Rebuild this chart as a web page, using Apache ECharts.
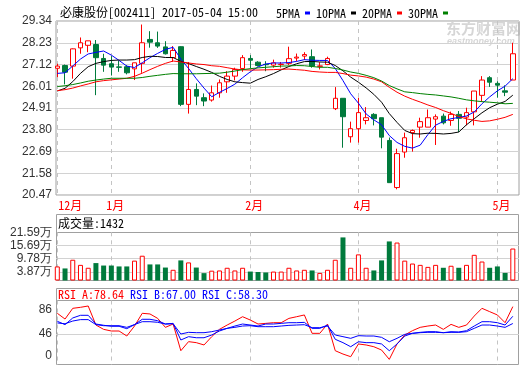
<!DOCTYPE html>
<html><head><meta charset="utf-8">
<script src="https://cdn.jsdelivr.net/npm/echarts@6/dist/echarts.min.js"></script>
<style>html,body{margin:0;padding:0;background:#fff}#c{width:520px;height:365px}</style>
</head><body><div id="c"></div>
<script>
// ---------- data ----------
const titleText = '必康股份[002411] 2017-05-04 15:00';
const maNames = ['5PMA', '10PMA', '20PMA', '30PMA'];
const monthIdx = [0, 7, 25, 39, 57];
const monthLabels = ['12月', '1月', '2月', '4月', '5月'];
const priceTicks = [20.47, 21.58, 22.69, 23.80, 24.91, 26.01, 27.12, 28.23, 29.34];
const volTicks = [0, 3.87, 9.78, 15.69, 21.59];
const rsiTicks = [0, 46, 86];
const volHeader = '成交量:1432';
const rsiHeader = ['RSI_A:78.64', 'RSI_B:67.00', 'RSI_C:58.30'];

// [open, close, low, high]
const ohlc = [
  [26.93,27.04,26.48,27.16],[27.07,26.73,26.11,27.12],[27.04,27.92,26.40,27.94],[27.97,28.23,27.67,28.50],
  [28.10,28.33,27.75,28.33],[28.14,27.47,25.56,28.37],[27.43,27.09,26.75,27.67],[27.16,26.99,26.56,27.55],
  [27.00,26.98,26.75,27.30],[27.01,26.70,26.62,27.09],[26.90,27.21,26.33,27.21],[27.18,28.23,26.70,29.16],
  [28.40,28.26,27.98,28.82],[28.23,28.06,27.97,28.80],[28.02,27.67,27.63,28.31],[27.47,27.84,27.26,28.06],
  [28.03,25.09,25.00,28.05],[25.09,25.85,24.62,27.25],[25.85,25.51,25.05,26.16],[25.43,25.26,25.00,25.65],
  [25.31,25.68,25.23,26.05],[25.68,26.19,25.43,26.36],[26.24,26.53,25.68,26.78],[26.53,26.87,26.31,26.96],
  [26.92,27.47,26.75,27.60],[27.43,27.34,26.92,27.60],[27.24,27.07,27.02,27.29],[27.13,27.11,26.78,27.29],
  [27.09,27.21,26.96,27.37],[27.12,27.14,26.96,27.25],[27.18,27.42,27.09,28.03],[27.45,27.50,27.29,27.68],
  [27.55,27.63,27.35,27.75],[27.52,27.04,26.96,27.89],[27.03,27.05,26.87,27.24],[27.12,27.43,27.09,27.52],
  [24.87,25.40,24.80,25.97],[25.40,24.46,22.88,25.40],[23.44,23.85,23.14,24.21],[23.85,24.67,23.14,25.43],
  [24.27,24.41,24.07,24.95],[24.58,24.36,24.02,24.64],[24.41,23.42,22.85,24.41],[23.25,21.10,21.10,23.40],
  [20.85,22.58,20.76,22.83],[22.66,23.39,22.37,23.65],[23.65,23.76,22.68,23.81],[23.93,24.21,23.39,24.41],
  [23.93,24.41,23.93,24.83],[24.34,24.46,23.02,24.58],[24.49,24.15,24.07,24.62],[24.27,24.58,24.00,24.72],
  [24.58,24.38,23.68,24.75],[24.44,24.67,24.02,24.92],[24.71,25.77,24.02,25.77],[25.55,26.33,25.23,26.53],
  [26.45,26.22,25.98,26.53],[26.16,26.07,25.43,26.27],[25.78,25.71,25.51,26.06],[26.33,27.67,26.33,28.23]
];
// volume in 万
const volume = [
  6.3,5.4,9.3,7.0,5.7,7.8,6.7,6.7,6.3,6.3,
  8.9,11.1,7.2,7.2,5.8,4.8,9.0,8.1,5.8,3.3,
  4.4,4.5,5.7,4.5,5.7,4.0,3.8,3.6,4.0,4.0,
  5.7,4.5,4.8,4.5,3.4,4.8,9.3,19.3,5.7,11.7,
  5.7,4.5,9.0,17.5,17.0,8.9,7.6,7.0,6.1,7.0,
  5.7,6.6,5.7,7.0,11.5,8.5,5.7,6.3,3.4,14.32
];
const ma5 = [
  26.67,26.70,27.05,27.40,27.66,27.74,27.81,27.60,27.33,27.04,
  26.97,27.21,27.47,27.69,27.89,28.00,27.40,26.92,26.40,25.92,
  25.48,25.70,25.90,26.12,26.45,26.75,27.00,27.15,27.20,27.20,
  27.22,27.28,27.37,27.34,27.33,27.33,26.92,26.30,25.63,25.15,
  24.60,24.30,24.05,23.50,23.15,22.95,22.86,23.01,23.55,24.03,
  24.22,24.36,24.42,24.50,24.70,25.12,25.47,25.78,26.02,26.40
];
const ma10 = [
  25.77,25.91,26.25,26.67,27.01,27.18,27.27,27.33,27.35,27.35,
  27.37,27.48,27.54,27.53,27.48,27.48,27.28,27.17,27.02,26.88,
  26.72,26.52,26.36,26.24,26.20,26.17,26.36,26.50,26.66,26.85,
  27.02,27.16,27.27,27.28,27.25,27.24,27.07,26.80,26.48,26.22,
  25.93,25.60,25.20,24.62,24.17,23.76,23.60,23.58,23.62,23.61,
  23.58,23.61,23.68,24.05,24.36,24.66,24.92,25.10,25.24,25.56
];
const ma20 = [
  25.79,25.84,25.92,26.03,26.13,26.24,26.30,26.34,26.38,26.42,
  26.52,26.68,26.86,27.03,27.18,27.30,27.25,27.20,27.15,27.12,
  27.06,27.03,26.96,26.89,26.85,26.84,26.84,26.85,26.86,26.88,
  26.89,26.86,26.83,26.77,26.74,26.72,26.72,26.66,26.58,26.54,
  26.48,26.38,26.24,25.96,25.71,25.51,25.35,25.21,25.06,24.93,
  24.77,24.63,24.47,24.35,24.28,24.22,24.25,24.33,24.43,24.58
];
const ma30 = [
  26.00,26.04,26.10,26.18,26.27,26.33,26.38,26.42,26.42,26.42,
  26.42,26.46,26.52,26.57,26.62,26.66,26.65,26.65,26.65,26.66,
  26.67,26.68,26.73,26.79,26.86,26.91,26.95,26.98,27.01,27.04,
  27.05,27.07,27.06,27.02,26.98,26.98,26.92,26.84,26.74,26.67,
  26.57,26.45,26.28,26.05,25.88,25.73,25.69,25.64,25.60,25.57,
  25.52,25.47,25.40,25.32,25.27,25.23,25.20,25.17,25.12,25.14
];
const rsiA = [
  70.6,63.7,76.6,77.8,79.4,56.5,51.3,49.3,49.3,43.3,
  55.3,70.6,69.8,64.5,53.7,57.7,25.6,36.5,35.3,32.5,
  42.5,51.3,56.5,61.3,66.5,62.5,57.7,58.5,59.3,59.3,
  64.5,66.5,68.6,46.5,46.5,57.7,25.6,21.6,18.4,33.7,
  32.5,30.4,26.4,15.2,33.7,44.5,49.7,53.7,55.3,56.5,
  51.3,57.3,53.7,56.5,67.3,76.6,72.6,68.6,59.3,78.64
];
const rsiB = [
  61.0,57.0,65.0,68.2,68.2,57.7,56.2,55.0,55.0,52.1,
  57.0,63.4,63.4,61.7,57.7,58.5,38.5,42.5,41.2,41.2,
  44.5,49.3,52.5,55.3,57.7,56.5,55.3,57.7,57.7,58.5,
  59.3,59.3,59.7,52.5,52.5,56.5,39.3,35.3,30.4,36.4,
  35.3,35.3,33.7,25.6,33.7,43.3,46.5,47.7,48.5,48.5,
  47.3,48.5,48.1,49.7,55.3,60.5,60.5,59.3,56.5,67.00
];
const rsiC = [
  59.0,58.0,61.3,63.0,63.0,57.0,55.7,55.7,55.7,53.7,
  57.0,60.5,60.5,59.8,57.7,58.0,45.7,47.7,47.3,47.3,
  48.5,50.5,52.5,53.7,55.3,55.7,54.5,54.5,54.5,55.3,
  56.1,56.5,56.9,53.3,53.3,55.3,44.5,42.5,40.5,43.7,
  43.3,43.3,41.7,36.4,40.5,45.3,46.5,47.3,47.7,47.7,
  47.3,47.7,47.7,48.5,52.5,56.5,56.5,55.3,53.7,58.30
];

// ---------- styles ----------
const RED = '#ff0000', GREEN = '#007a3c', BLUE = '#0000ff';
const NUM_FONT = "'Liberation Sans', Arial, sans-serif";
const CJK_FONT = "'Noto Sans Mono CJK SC', 'Noto Sans CJK SC', sans-serif";
const GRID_LINE = '#d2d2d2', FRAME = '#a0a0a0';
const X_MIN = -0.17, X_MAX = 59.8;

function xAxisFor(gi, showLabel) {
  return {
    type: 'value', gridIndex: gi, min: X_MIN, max: X_MAX,
    axisLine: { show: false },
    axisTick: { show: false, customValues: monthIdx },
    splitLine: { show: true, lineStyle: { color: '#c4c4c4', type: [4, 4], width: 1 } },
    axisLabel: {
      show: showLabel, customValues: monthIdx, margin: 4,
      formatter: function (v) {
        const k = monthIdx.indexOf(Math.round(v));
        const t = monthLabels[k] || '';
        return k === 0 ? '{f|' + t + '}' : '{m|' + t + '}';
      },
      rich: {
        f: { color: RED, fontSize: 12, fontFamily: CJK_FONT, padding: [0, 0, 0, 26] },
        m: { color: RED, fontSize: 12, fontFamily: CJK_FONT, padding: [0, 0, 0, 8] }
      }
    }
  };
}

const upOf = ohlc.map(d => d[1] >= d[0]);

const option = {
  animation: false,
  backgroundColor: '#ffffff',
  title: {
    text: titleText, left: 55, top: 1,
    textStyle: { fontSize: 12, fontWeight: 'normal', color: '#000', fontFamily: CJK_FONT }
  },
  legend: {
    data: maNames, left: 271, top: 2, icon: 'rect', itemWidth: 5, itemHeight: 3,
    align: 'right', itemGap: 6, selectedMode: false,
    textStyle: { fontSize: 12, color: '#000', fontFamily: CJK_FONT }
  },
  grid: [
    { left: 56, right: 1, top: 21, height: 174, show: true, borderColor: FRAME, borderWidth: 1, backgroundColor: 'transparent', outerBoundsMode: 'none' },
    { left: 56, right: 1, top: 232.3, height: 48.2, show: false, outerBoundsMode: 'none' },
    { left: 56, right: 1, top: 300.5, height: 71.5, show: false, outerBoundsMode: 'none' }
  ],
  xAxis: [xAxisFor(0, true), xAxisFor(1, false), xAxisFor(2, false)],
  yAxis: [
    {
      type: 'value', gridIndex: 0, min: priceTicks[0], max: priceTicks[priceTicks.length - 1],
      axisLine: { show: false }, axisTick: { show: false, customValues: priceTicks },
      splitLine: { show: true, lineStyle: { color: GRID_LINE } },
      axisLabel: { customValues: priceTicks, margin: 4, color: '#333', fontSize: 12, fontFamily: NUM_FONT,
        formatter: v => v.toFixed(2) }
    },
    {
      type: 'value', gridIndex: 1, min: 0, max: volTicks[volTicks.length - 1],
      axisLine: { show: false }, axisTick: { show: false, customValues: volTicks },
      splitLine: { show: true, lineStyle: { color: ['transparent', GRID_LINE, GRID_LINE, GRID_LINE, FRAME] } },
      axisLabel: { customValues: volTicks, margin: 4, color: '#333', fontSize: 12, fontFamily: NUM_FONT,
        formatter: v => v === 0 ? '0' : v.toFixed(2) + '万' }
    },
    {
      type: 'value', gridIndex: 2, min: 0, max: rsiTicks[rsiTicks.length - 1],
      axisLine: { show: false }, axisTick: { show: false, customValues: rsiTicks },
      splitLine: { show: true, lineStyle: { color: ['transparent', GRID_LINE, FRAME] } },
      axisLabel: { customValues: rsiTicks, margin: 4,
        formatter: v => v === 0 ? '{lo|0}' : (v === 86 ? '{hi|86}' : '{n|' + v + '}'),
        rich: {
          lo: { color: '#333', fontSize: 12, fontFamily: NUM_FONT, padding: [0, 0, 32, 0] },
          hi: { color: '#333', fontSize: 12, fontFamily: NUM_FONT, padding: [18, 0, 0, 0] },
          n: { color: '#333', fontSize: 12, fontFamily: NUM_FONT }
        }
      }
    }
  ],
  graphic: [
    { type: 'rect', shape: { x: 56.5, y: 214.5, width: 462, height: 66 }, style: { fill: 'none', stroke: FRAME, lineWidth: 1 }, silent: true },
    { type: 'rect', shape: { x: 56.5, y: 288.5, width: 462, height: 76 }, style: { fill: 'none', stroke: FRAME, lineWidth: 1 }, silent: true },
    { type: 'text', x: 58, y: 223, style: { text: volHeader, fill: '#000', font: '12px ' + CJK_FONT, verticalAlign: 'middle' }, silent: true },
    { type: 'text', x: 58, y: 294, silent: true, style: {
        text: '{a|' + rsiHeader[0] + '} {b|' + rsiHeader[1] + '} {b|' + rsiHeader[2] + '}',
        font: '12px ' + CJK_FONT, verticalAlign: 'middle',
        rich: { a: { fill: RED, font: '12px ' + CJK_FONT }, b: { fill: BLUE, font: '12px ' + CJK_FONT } }
      } },
    { type: 'text', x: 446, y: 21, silent: true, z: -1, style: { text: '东方财富网', fill: '#d6d6d6', font: 'bold 15px ' + CJK_FONT } },
    { type: 'text', x: 447, y: 37, silent: true, z: -1, style: { text: 'eastmoney.com', fill: '#d6d6d6', font: 'italic bold 9px ' + NUM_FONT } }
  ],
  series: [
    {
      type: 'candlestick', name: 'K', xAxisIndex: 0, yAxisIndex: 0, barWidth: 5,
      encode: { x: 0, y: [1, 2, 3, 4] },
      data: ohlc.map((d, i) => [i, d[0], d[1], d[2], d[3]]),
      itemStyle: { color: '#ffffff', color0: GREEN, borderColor: RED, borderColor0: GREEN, borderWidth: 1 },
      emphasis: { disabled: true }
    },
    { type: 'line', name: maNames[0], xAxisIndex: 0, yAxisIndex: 0, showSymbol: false, symbol: 'none', color: BLUE,
      lineStyle: { width: 1, color: BLUE }, data: ma5.map((v, i) => [i, v]), z: 3 },
    { type: 'line', name: maNames[1], xAxisIndex: 0, yAxisIndex: 0, showSymbol: false, symbol: 'none', color: '#000000',
      lineStyle: { width: 1, color: '#000000' }, data: ma10.map((v, i) => [i, v]), z: 3 },
    { type: 'line', name: maNames[2], xAxisIndex: 0, yAxisIndex: 0, showSymbol: false, symbol: 'none', color: RED,
      lineStyle: { width: 1, color: RED }, data: ma20.map((v, i) => [i, v]), z: 3 },
    { type: 'line', name: maNames[3], xAxisIndex: 0, yAxisIndex: 0, showSymbol: false, symbol: 'none', color: '#008000',
      lineStyle: { width: 1, color: '#008000' }, data: ma30.map((v, i) => [i, v]), z: 3 },
    {
      type: 'bar', name: 'VOL', xAxisIndex: 1, yAxisIndex: 1, barWidth: 5,
      data: volume.map((v, i) => ({
        value: [i, v],
        itemStyle: upOf[i] ? { color: '#ffffff', borderColor: RED, borderWidth: 1 } : { color: GREEN }
      }))
    },
    { type: 'line', name: 'RSI_A', xAxisIndex: 2, yAxisIndex: 2, showSymbol: false, symbol: 'none',
      lineStyle: { width: 1, color: RED }, data: rsiA.map((v, i) => [i, v]) },
    { type: 'line', name: 'RSI_B', xAxisIndex: 2, yAxisIndex: 2, showSymbol: false, symbol: 'none',
      lineStyle: { width: 1, color: BLUE }, data: rsiB.map((v, i) => [i, v]) },
    { type: 'line', name: 'RSI_C', xAxisIndex: 2, yAxisIndex: 2, showSymbol: false, symbol: 'none',
      lineStyle: { width: 1, color: BLUE }, data: rsiC.map((v, i) => [i, v]) }
  ]
};
const chart = echarts.init(document.getElementById('c'), null, { renderer: 'canvas' });
chart.setOption(option);
</script></body></html>
